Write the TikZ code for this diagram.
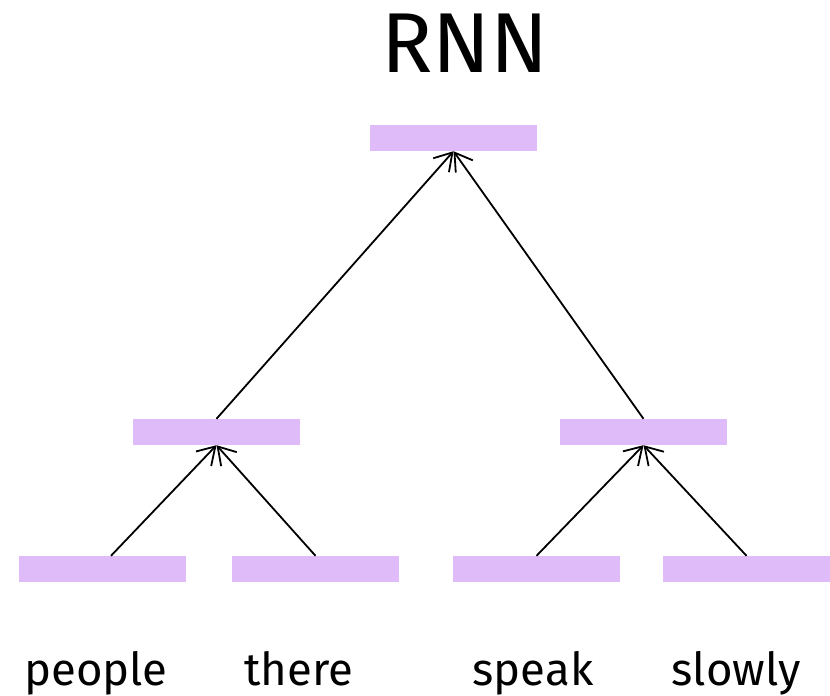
\documentclass[tikz,border=0pt]{standalone}
\usepackage{fontspec}
\setmainfont{Fira Sans}
\usetikzlibrary{arrows.meta}
\definecolor{boxpurple}{RGB}{224,187,250}
\begin{document}
\begin{tikzpicture}[x=1pt,y=-1pt,
  vecbox/.style={rectangle,fill=boxpurple,draw=none,minimum width=167pt,minimum height=26pt,inner sep=0pt},
  arr/.style={line width=1.8pt,-{Straight Barb[length=17pt,width=21pt,line width=1.8pt]}},
  word/.style={anchor=base,inner sep=0pt,font=\fontsize{45.5}{54}\selectfont},
  title/.style={anchor=base,inner sep=0pt,font=\fontsize{85}{100}\selectfont}]
\useasboundingbox (0,0) rectangle (830,696);
\node[title] (ttl) at (465,72) {RNN};
\node[vecbox] (top) at (453.5,138) {};
\node[vecbox] (ml) at (216.5,432) {};
\node[vecbox] (mr) at (643.5,432) {};
\node[vecbox] (b1) at (102.5,569) {};
\node[vecbox] (b2) at (315.5,569) {};
\node[vecbox] (b3) at (536.5,569) {};
\node[vecbox] (b4) at (746.5,569) {};
\node[word] (w1) at (96,685) {people};
\node[word] (w2) at (299,685) {there};
\node[word] (w3) at (533,685) {speak};
\node[word] (w4) at (736,685) {slowly};
\draw[arr] ([xshift=8.5pt]b1.north) -- (ml.south);
\draw[arr] (b2.north) -- (ml.south);
\draw[arr] (b3.north) -- (mr.south);
\draw[arr] (b4.north) -- (mr.south);
\draw[arr] (ml.north) -- (top.south);
\draw[arr] (mr.north) -- (top.south);
\end{tikzpicture}
\end{document}
